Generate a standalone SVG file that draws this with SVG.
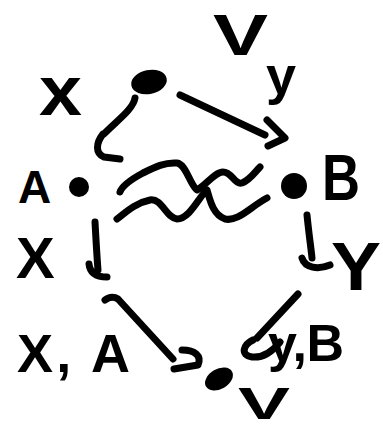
<svg xmlns="http://www.w3.org/2000/svg" width="383" height="430" viewBox="0 0 383 430">
<style>
.t{font-family:"Liberation Sans",Arial,sans-serif;font-weight:bold;fill:#000}
.s{fill:none;stroke:#000;stroke-width:7;stroke-linecap:round;stroke-linejoin:round}
.d{fill:#000}
</style>
<rect width="383" height="430" fill="#fff"/>
<g id="node-top">
<ellipse class="d" cx="149" cy="82" rx="18" ry="12" transform="rotate(-12 149 82)"/>
<text class="t" x="213" y="55" font-size="58" textLength="55" lengthAdjust="spacingAndGlyphs">V</text>
</g>
<g id="node-A">
<ellipse class="d" cx="79" cy="187" rx="10" ry="10"/>
<text class="t" x="18" y="203" font-size="46">A</text>
</g>
<g id="node-B">
<ellipse class="d" cx="294" cy="186" rx="13" ry="13"/>
<text class="t" x="322" y="200" font-size="64" textLength="38" lengthAdjust="spacingAndGlyphs">B</text>
</g>
<g id="node-XA">
<text class="t" x="17" y="372" font-size="54" textLength="113" lengthAdjust="spacing">X, A</text>
</g>
<g id="node-YB">
<text class="t" x="268" y="361" font-size="52" textLength="76" lengthAdjust="spacing">y,B</text>
</g>
<g id="node-bottom">
<ellipse class="d" cx="219" cy="379" rx="15" ry="10" transform="rotate(-30 219 379)"/>
<text class="t" x="238" y="419" font-size="44" textLength="52" lengthAdjust="spacingAndGlyphs">V</text>
</g>
<g id="connectors">
<path class="s" d="M135,98 C133,110 115,122 104,134 M103,134 C96,143 95,153 104,157 L120,159"/>
<text class="t" x="39" y="115" font-size="70" textLength="43" lengthAdjust="spacingAndGlyphs">x</text>
<path class="s" d="M180,95 L265,135 M267,120 L285,138 L268,146"/>
<text class="t" x="266" y="94" font-size="54">y</text>
<path class="s" d="M95,222 C96,240 97,258 98,270 M89,264 C90,274 98,277 107,277"/>
<text class="t" x="16" y="278" font-size="58">X</text>
<path class="s" d="M307,215 C309,235 311,248 312,258 M302,258 C305,268 318,270 330,265"/>
<text class="t" x="331" y="290" font-size="68" textLength="50" lengthAdjust="spacingAndGlyphs">Y</text>
<path class="s" d="M105,300 C110,296 115,297 118,299 L173,359 M182,350 C195,350 202,356 198,365 L174,369"/>
<path class="s" d="M298,294 L257,338 M253,340 C243,345 240,355 252,357 C262,358 272,352 280,342"/>
</g>
<g id="squiggle">
<path class="s" d="M120,192 C122,186 130,180 143,173 C155,167 165,162 177,163 C186,164 190,185 197,190 C205,186 215,172 223,172 C232,172 235,185 242,183 C250,180 255,172 260,167"/>
<path class="s" d="M117,219 C125,213 135,203 150,200 C162,198 166,218 177,219 C190,219 200,195 207,190 C210,200 213,215 225,219 C238,222 250,207 267,198"/>
</g>
</svg>
